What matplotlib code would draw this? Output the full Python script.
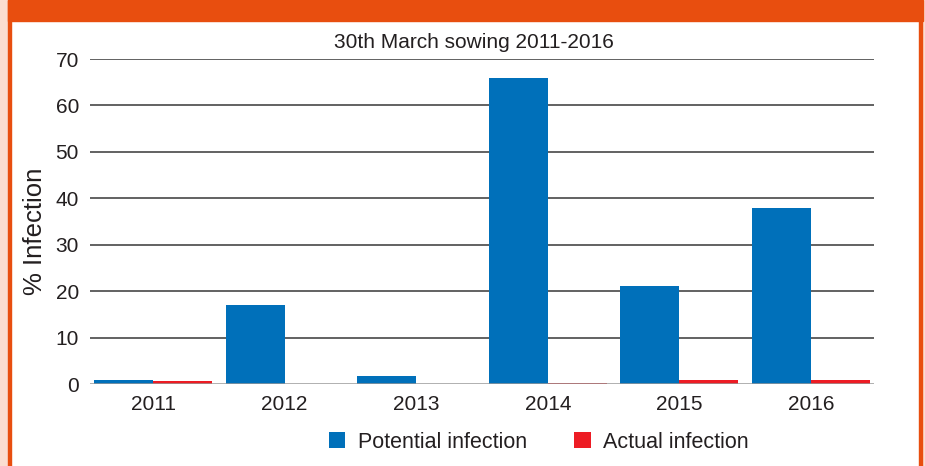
import matplotlib
matplotlib.use("Agg")
import matplotlib.pyplot as plt
from matplotlib.patches import Rectangle
import numpy as np

plt.rcParams['font.family'] = ['Liberation Sans', 'DejaVu Sans']

years = ['2011', '2012', '2013', '2014', '2015', '2016']
potential = [0.8, 17.0, 1.8, 66.0, 21.2, 38.0]
actual = [0.6, 0.0, 0.0, 0.2, 0.9, 0.9]
yticks = [0, 10, 20, 30, 40, 50, 60, 70]
title = '30th March sowing 2011-2016'
ylabel = '% Infection'
series_names = ['Potential infection', 'Actual infection']

BLUE = '#0070BA'
RED = '#ED1C24'
ORANGE = '#E84E0F'
PEACH = '#FBDDD0'
TXT = '#231F20'

W, H = 925, 466
fig = plt.figure(figsize=(W / 100, H / 100), dpi=100)

# frame decorations
fig.patches.append(Rectangle((0, 0), 8 / W, 1, transform=fig.transFigure, color=PEACH, zorder=0))
fig.patches.append(Rectangle((8 / W, 0), 2.5 / W, 1, transform=fig.transFigure, color=ORANGE, zorder=1))
fig.patches.append(Rectangle((919 / W, 0), 2.5 / W, 1, transform=fig.transFigure, color=ORANGE, zorder=1))
fig.patches.append(Rectangle((921.5 / W, 0), 4 / W, 1, transform=fig.transFigure, color=PEACH, zorder=0))
fig.patches.append(Rectangle((8 / W, 1 - 21 / H), 915 / W, 21 / H, transform=fig.transFigure, color=ORANGE, zorder=1))

left, right = 90, 874
bottom, top = 384, 59
ax = fig.add_axes([left / W, 1 - bottom / H, (right - left) / W, (bottom - top) / H])

x = np.arange(len(years))
bw = 0.448
ax.bar(x - bw / 2, potential, width=bw, color=BLUE, label=series_names[0], zorder=3)
ax.bar(x + bw / 2, actual, width=bw, color=RED, label=series_names[1], zorder=3)

ax.set_xlim(-0.48, len(years) - 0.52)
ax.set_ylim(0, 70)
ax.set_yticks(yticks)
ax.set_xticks(x)
ax.set_xticklabels(years)
for yv in yticks[1:]:
    ax.axhline(yv, color='#555555', lw=1.3, zorder=1)
ax.axhline(0, color='#999999', lw=1.8, zorder=4)

for s in ax.spines.values():
    s.set_visible(False)
ax.tick_params(axis='both', length=0, labelsize=15, colors=TXT)
ax.tick_params(axis='y', pad=8)
ax.tick_params(axis='x', pad=8)

ax.set_ylabel(ylabel, fontsize=18.5, color=TXT)
ax.yaxis.set_label_coords(-0.055, 0.47)
fig.text(474 / W, 1 - 42 / H, title, ha='center', va='center', fontsize=15, color=TXT)

handles, labels = ax.get_legend_handles_labels()
leg = fig.legend(handles, labels, loc='center', bbox_to_anchor=(539 / W, 1 - 442 / H), ncol=2,
                 frameon=False, fontsize=15.5, handlelength=0.75, handleheight=0.75,
                 handletextpad=0.6, columnspacing=2.2)
for t in leg.get_texts():
    t.set_color(TXT)

fig.savefig('out.png', dpi=100)
